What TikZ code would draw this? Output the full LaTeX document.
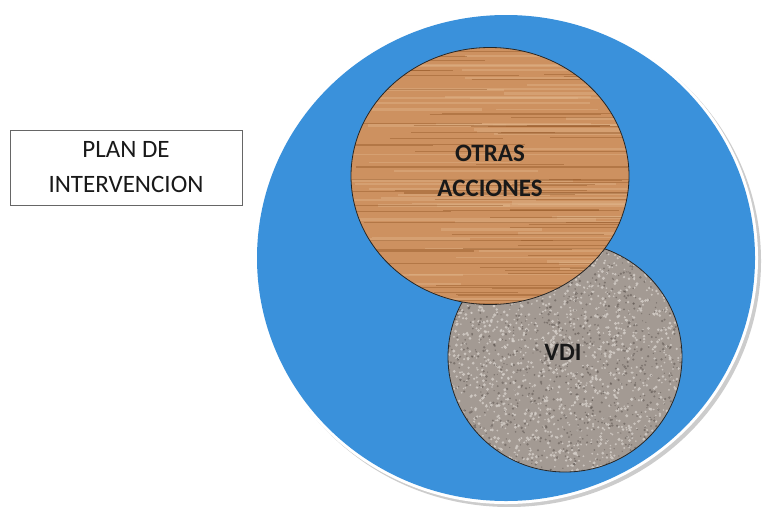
\documentclass[tikz,border=0pt]{standalone}
\usepackage{fontspec}
\setmainfont{Carlito}
\usetikzlibrary{shapes.geometric}
\definecolor{blueC}{HTML}{3A91DB}
\definecolor{woodA}{HTML}{CD9160}
\definecolor{woodD}{HTML}{8E5020}
\definecolor{woodL}{HTML}{E0B48A}
\definecolor{granA}{HTML}{A39A93}
\definecolor{granL}{HTML}{D5CFC9}
\definecolor{granD}{HTML}{5E5651}
\tikzset{
  disc/.style={ellipse, inner sep=0pt},
  rim/.style={disc, draw=black!85, line width=0.8pt},
  label/.style={align=center, text=black!90, font=\bfseries\fontsize{25}{35}\selectfont},
}
\begin{document}
\begin{tikzpicture}[x=1pt,y=-1pt]
\useasboundingbox (0,0) rectangle (767,506);
\fill[white] (0,0) rectangle (767,506);
% plate with bevel
\node[disc, fill=black!20, minimum width=504pt, minimum height=492pt] (shadow) at (509,261) {};
\node[disc, fill=white, minimum width=504pt, minimum height=492pt] (bevel) at (506,258) {};
\node[disc, fill=blueC, minimum width=498pt, minimum height=486pt] (plate) at (506,258) {};
% granite disc
\node[rim, fill=granA, minimum width=234pt, minimum height=230pt, path picture={
  \begin{scope}[shift={(path picture bounding box.center)}]
  \pgfmathsetseed{7}
  \foreach \i in {1,...,1700}{
    \pgfmathsetmacro\px{-120+240*rnd}
    \pgfmathsetmacro\py{-118+236*rnd}
    \pgfmathsetmacro\r{0.8+0.9*rnd}
    \fill[granL, opacity=0.8] (\px,\py) circle (\r);
  }
  \foreach \i in {1,...,1100}{
    \pgfmathsetmacro\px{-120+240*rnd}
    \pgfmathsetmacro\py{-118+236*rnd}
    \pgfmathsetmacro\r{0.6+0.8*rnd}
    \fill[granD, opacity=0.55] (\px,\py) circle (\r);
  }
  \end{scope}
}] (vdi) at (565,357) {};
% wood disc
\node[rim, fill=woodA, minimum width=278pt, minimum height=257pt, path picture={
  \begin{scope}[shift={(path picture bounding box.center)}]
  \pgfmathsetseed{11}
  \foreach \i in {1,...,60}{
    \pgfmathsetmacro\py{-131+262*rnd}
    \pgfmathsetmacro\px{-170+250*rnd}
    \pgfmathsetmacro\len{100+220*rnd}
    \pgfmathsetmacro\w{1.0+2.5*rnd}
    \draw[woodL, opacity=0.45, line width=\w pt] (\px,\py) -- ++(\len,0);
  }
  \foreach \i in {1,...,75}{
    \pgfmathsetmacro\py{-131+262*rnd}
    \pgfmathsetmacro\px{-170+250*rnd}
    \pgfmathsetmacro\len{80+220*rnd}
    \pgfmathsetmacro\w{0.4+1.0*rnd}
    \draw[woodD, opacity=0.4, line width=\w pt] (\px,\py) -- ++(\len,0);
  }
  \end{scope}
}] (wood) at (490,176) {};
% labels
\node[label] (otras) at (490,171) {OTRAS\\ACCIONES};
\node[label] (vdilabel) at (563,352) {VDI};
\node[draw=black!60, line width=0.8pt, minimum width=232pt, minimum height=75pt, align=center, text=black!90, font=\fontsize{25}{35}\selectfont] (plan) at (126,167.5) {PLAN DE\\INTERVENCION};
\end{tikzpicture}
\end{document}
